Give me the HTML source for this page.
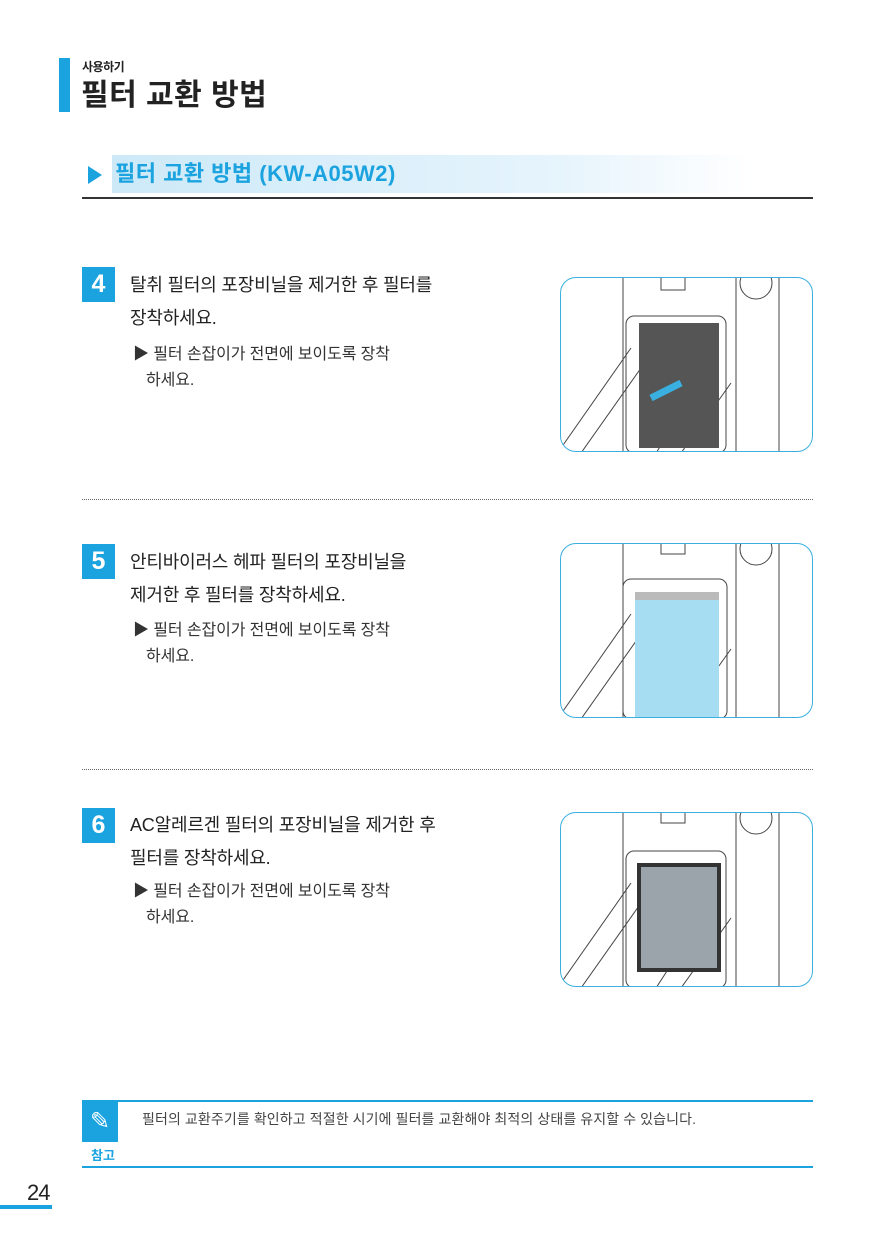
<!DOCTYPE html>
<html><head><meta charset="utf-8"><style>
*{margin:0;padding:0;box-sizing:border-box}
body{width:872px;height:1239px;background:#fff;position:relative;font-family:"Liberation Sans","Noto Sans CJK KR",sans-serif;color:#222;overflow:hidden}
.a{position:absolute}
.badge{position:absolute;left:82px;width:33px;height:35px;background:#1ba3e0;color:#fff;font-weight:bold;font-size:25px;text-align:center;line-height:35px}
.st{position:absolute;left:130px;font-size:18px;line-height:33px;letter-spacing:-0.2px;color:#222}
.bl{position:absolute;left:133px;font-size:16px;line-height:26px;letter-spacing:-0.1px;color:#333}
.img{position:absolute;left:560px;width:253px;height:175px;border:1.5px solid #3bb0e0;border-radius:16px;overflow:hidden;background:#fff}
.dot{position:absolute;left:82px;width:731px;border-top:1px dotted #666}
</style></head><body>
<div class="a" style="left:59px;top:58px;width:11px;height:54px;background:#1ba3e0"></div>
<div class="a" style="left:82px;top:58px;font-size:12px;font-weight:bold;letter-spacing:-0.5px">사용하기</div>
<div class="a" style="left:81px;top:76px;font-size:30px;font-weight:bold;letter-spacing:0.5px;line-height:40px">필터 교환 방법</div>

<div class="a" style="left:112px;top:155px;width:640px;height:38px;background:linear-gradient(90deg,#cde9f8,#e6f4fc 70%,#fff)"></div>
<div class="a" style="left:88px;top:166px;width:0;height:0;border-left:14px solid #1ba3e0;border-top:9px solid transparent;border-bottom:9px solid transparent"></div>
<div class="a" style="left:115px;top:157px;font-size:22px;font-weight:bold;color:#1ba3e0;line-height:34px;letter-spacing:0.5px">필터 교환 방법 (KW-A05W2)</div>
<div class="a" style="left:82px;top:197px;width:731px;height:2px;background:#333"></div>

<div class="badge" style="top:267px">4</div>
<div class="st" style="top:269px">탈취 필터의 포장비닐을 제거한 후 필터를<br>장착하세요.</div>
<div class="bl" style="top:342px">▶ 필터 손잡이가 전면에 보이도록 장착<br>&nbsp;&nbsp;&nbsp;하세요.</div>

<div class="dot" style="top:499px"></div>
<div class="badge" style="top:544px">5</div>
<div class="st" style="top:546px">안티바이러스 헤파 필터의 포장비닐을<br>제거한 후 필터를 장착하세요.</div>
<div class="bl" style="top:618px">▶ 필터 손잡이가 전면에 보이도록 장착<br>&nbsp;&nbsp;&nbsp;하세요.</div>

<div class="dot" style="top:769px"></div>
<div class="badge" style="top:808px">6</div>
<div class="st" style="top:809px">AC알레르겐 필터의 포장비닐을 제거한 후<br>필터를 장착하세요.</div>
<div class="bl" style="top:879px">▶ 필터 손잡이가 전면에 보이도록 장착<br>&nbsp;&nbsp;&nbsp;하세요.</div>

<div class="img" style="top:277px"><svg width="253" height="175"><g fill="none" stroke="#444" stroke-width="1"><path d="M62 0V175M175 0V175M218 0V175"/><rect x="100" y="-2" width="24" height="14"/><circle cx="195" cy="5" r="16"/><rect x="65" y="38" width="100" height="137" rx="8"/><path d="M0 170L70 70M20 175L80 90M95 175L150 90M120 175L170 105"/></g><rect x="78" y="45" width="80" height="125" fill="#555"/><path d="M90 120L120 105" stroke="#3ab0e0" stroke-width="7"/></svg></div>
<div class="img" style="top:543px"><svg width="253" height="175"><g fill="none" stroke="#444" stroke-width="1"><path d="M62 0V175M175 0V175M218 0V175"/><rect x="100" y="-2" width="24" height="12"/><circle cx="195" cy="5" r="16"/><rect x="62" y="35" width="104" height="140" rx="8"/><path d="M0 170L70 70M20 175L80 90M95 175L150 90M120 175L170 105"/></g><rect x="74" y="48" width="84" height="125" fill="#a6ddf3"/><rect x="74" y="48" width="84" height="8" fill="#bbb"/></svg></div>
<div class="img" style="top:812px"><svg width="253" height="175"><g fill="none" stroke="#444" stroke-width="1"><path d="M62 0V175M175 0V175M218 0V175"/><rect x="100" y="-2" width="24" height="12"/><circle cx="195" cy="5" r="16"/><rect x="65" y="38" width="100" height="137" rx="8"/><path d="M0 170L70 70M20 175L80 90M95 175L150 90M120 175L170 105"/></g><rect x="78" y="52" width="80" height="105" fill="#9aa4aa" stroke="#333" stroke-width="4"/></svg></div>

<div class="a" style="left:82px;top:1100px;width:731px;height:2px;background:#1ba3e0"></div>
<div class="a" style="left:82px;top:1101px;width:36px;height:41px;background:#1ba3e0;color:#fff;font-size:24px;text-align:center;line-height:41px">✎</div>
<div class="a" style="left:91px;top:1145px;font-size:13px;font-weight:bold;color:#1ba3e0">참고</div>
<div class="a" style="left:142px;top:1109px;font-size:14px;color:#444;letter-spacing:0.1px">필터의 교환주기를 확인하고 적절한 시기에 필터를 교환해야 최적의 상태를 유지할 수 있습니다.</div>
<div class="a" style="left:82px;top:1166px;width:731px;height:2px;background:#1ba3e0"></div>

<div class="a" style="left:27px;top:1180px;font-size:22px;color:#222;letter-spacing:-1px">24</div>
<div class="a" style="left:0;top:1205px;width:52px;height:4px;background:#1ba3e0"></div>
</body></html>
